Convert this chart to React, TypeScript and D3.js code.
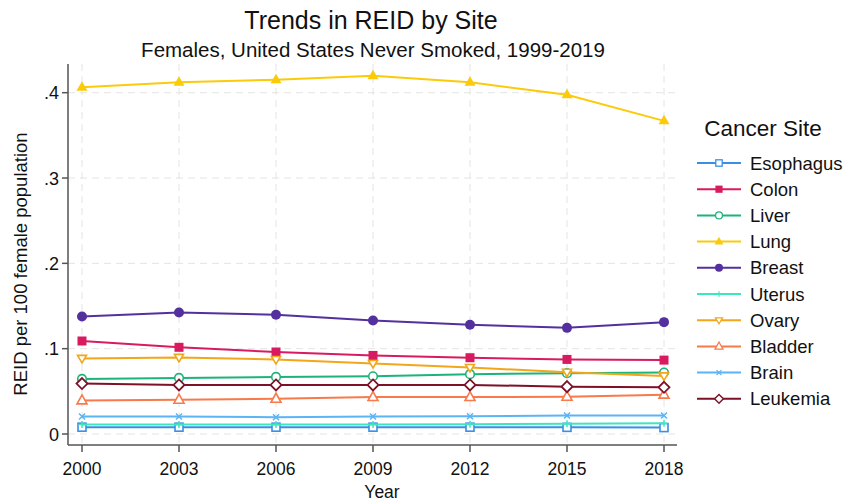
import React from "react";
import * as d3 from "d3";

// Years on the x axis
const years = [2000, 2003, 2006, 2009, 2012, 2015, 2018];
const yTicks = [0, 0.1, 0.2, 0.3, 0.4];
const yTickLabels = ["0", ".1", ".2", ".3", ".4"];

// REID per 100 female population, by cancer site
const esophagus = [0.008, 0.008, 0.008, 0.008, 0.008, 0.0078, 0.0075];
const colon = [0.109, 0.1016, 0.0961, 0.0921, 0.0894, 0.0874, 0.0866];
const liver = [0.0646, 0.0657, 0.0669, 0.0677, 0.0701, 0.0713, 0.072];
const lung = [0.4065, 0.4122, 0.4153, 0.42, 0.4122, 0.3976, 0.367];
const breast = [0.1378, 0.1425, 0.1398, 0.1331, 0.128, 0.1244, 0.1311];
const uterus = [0.011, 0.011, 0.011, 0.011, 0.0115, 0.012, 0.0125];
const ovary = [0.0886, 0.0898, 0.0874, 0.0827, 0.078, 0.0724, 0.0681];
const bladder = [0.0394, 0.0402, 0.0413, 0.0433, 0.0433, 0.0437, 0.0461];
const brain = [0.0205, 0.0205, 0.0197, 0.0205, 0.0209, 0.0217, 0.0217];
const leukemia = [0.0591, 0.0575, 0.0575, 0.0575, 0.0575, 0.0555, 0.0547];

type Marker =
  | "squareOpen"
  | "square"
  | "circleOpen"
  | "triangle"
  | "circle"
  | "plus"
  | "triangleDownOpen"
  | "triangleOpen"
  | "cross"
  | "diamondOpen";

const series: { name: string; values: number[]; color: string; marker: Marker }[] = [
  { name: "Esophagus", values: esophagus, color: "#3a8ee6", marker: "squareOpen" },
  { name: "Colon", values: colon, color: "#d81b60", marker: "square" },
  { name: "Liver", values: liver, color: "#1db47a", marker: "circleOpen" },
  { name: "Lung", values: lung, color: "#fbcb0a", marker: "triangle" },
  { name: "Breast", values: breast, color: "#53309e", marker: "circle" },
  { name: "Uterus", values: uterus, color: "#3ee6bd", marker: "plus" },
  { name: "Ovary", values: ovary, color: "#f2a71b", marker: "triangleDownOpen" },
  { name: "Bladder", values: bladder, color: "#f87a4b", marker: "triangleOpen" },
  { name: "Brain", values: brain, color: "#5bb4f6", marker: "cross" },
  { name: "Leukemia", values: leukemia, color: "#7d1128", marker: "diamondOpen" },
];

const W = 846;
const H = 502;
const FONT = "'Liberation Sans', Arial, sans-serif";

function MarkerShape({ type, x, y, color }: { type: Marker; x: number; y: number; color: string }) {
  const sw = 1.6;
  switch (type) {
    case "squareOpen":
      return <rect x={x - 4} y={y - 4} width={8} height={8} fill="white" stroke={color} strokeWidth={sw} />;
    case "square":
      return <rect x={x - 4.5} y={y - 4.5} width={9} height={9} fill={color} />;
    case "circleOpen":
      return <circle cx={x} cy={y} r={4.3} fill="white" stroke={color} strokeWidth={sw} />;
    case "circle":
      return <circle cx={x} cy={y} r={5} fill={color} />;
    case "triangle":
      return <path d={`M${x},${y - 6} L${x + 5.5},${y + 3.5} L${x - 5.5},${y + 3.5} Z`} fill={color} />;
    case "triangleOpen":
      return (
        <path
          d={`M${x},${y - 5.5} L${x + 5},${y + 3.5} L${x - 5},${y + 3.5} Z`}
          fill="white"
          stroke={color}
          strokeWidth={sw}
        />
      );
    case "triangleDownOpen":
      return (
        <path
          d={`M${x - 4.5},${y - 3} L${x + 4.5},${y - 3} L${x},${y + 4.5} Z`}
          fill="white"
          stroke={color}
          strokeWidth={sw}
        />
      );
    case "plus":
      return (
        <path d={`M${x - 3.5},${y} L${x + 3.5},${y} M${x},${y - 3.5} L${x},${y + 3.5}`} stroke={color} strokeWidth={1.5} />
      );
    case "cross":
      return (
        <path
          d={`M${x - 3},${y - 3} L${x + 3},${y + 3} M${x - 3},${y + 3} L${x + 3},${y - 3}`}
          stroke={color}
          strokeWidth={1.5}
        />
      );
    case "diamondOpen":
      return (
        <path
          d={`M${x},${y - 5.5} L${x + 5.5},${y} L${x},${y + 5.5} L${x - 5.5},${y} Z`}
          fill="white"
          stroke={color}
          strokeWidth={1.8}
        />
      );
  }
}

export default function App() {
  const left = 68;
  const right = 677;
  const top = 64;
  const bottom = 445;

  const x = d3.scaleLinear().domain([2000, 2018]).range([82, 664]);
  const y = d3.scaleLinear().domain([0, 0.4]).range([434, 92.7]);

  const line = d3
    .line<[number, number]>()
    .x((d) => x(d[0]))
    .y((d) => y(d[1]));

  const legendX = 697;
  const legendY0 = 163;
  const legendStep = 26.2;

  return (
    <div style={{ position: "absolute", left: 0, top: 0 }}>
      <svg width={W} height={H} style={{ display: "block", background: "white" }} fontFamily={FONT}>
        <rect width={W} height={H} fill="white" />
        {/* Titles */}
        <text x={371} y={29} textAnchor="middle" fontSize={25} fill="#111">
          Trends in REID by Site
        </text>
        <text x={373} y={57} textAnchor="middle" fontSize={20.5} fill="#111">
          Females, United States Never Smoked, 1999-2019
        </text>

        {/* Grid */}
        <g stroke="#e4e4e4" strokeWidth={1} strokeDasharray="7,5">
          {yTicks.map((t) => (
            <line key={"gy" + t} x1={left} x2={right} y1={y(t)} y2={y(t)} />
          ))}
          {years.map((yr) => (
            <line key={"gx" + yr} x1={x(yr)} x2={x(yr)} y1={top} y2={bottom} />
          ))}
        </g>

        {/* Series */}
        {series.map((s) => (
          <g key={s.name}>
            <path
              d={line(years.map((yr, i) => [yr, s.values[i]] as [number, number])) || ""}
              fill="none"
              stroke={s.color}
              strokeWidth={2}
            />
            {years.map((yr, i) => (
              <MarkerShape key={yr} type={s.marker} x={x(yr)} y={y(s.values[i])} color={s.color} />
            ))}
          </g>
        ))}

        {/* Axes */}
        <g stroke="#555" strokeWidth={1.5}>
          <line x1={left} x2={left} y1={top} y2={bottom} />
          <line x1={left} x2={right} y1={bottom} y2={bottom} />
          {yTicks.map((t) => (
            <line key={"ty" + t} x1={left - 6} x2={left} y1={y(t)} y2={y(t)} />
          ))}
          {years.map((yr) => (
            <line key={"tx" + yr} x1={x(yr)} x2={x(yr)} y1={bottom} y2={bottom + 7} />
          ))}
        </g>
        {yTicks.map((t, i) => (
          <text key={"ly" + t} x={59} y={y(t) + 6.5} textAnchor="end" fontSize={18} fill="#111">
            {yTickLabels[i]}
          </text>
        ))}
        {years.map((yr) => (
          <text key={"lx" + yr} x={x(yr)} y={475} textAnchor="middle" fontSize={17.5} fill="#111">
            {yr}
          </text>
        ))}
        <text x={382} y={498} textAnchor="middle" fontSize={17.5} fill="#111">
          Year
        </text>
        <text
          transform={`translate(27, 264) rotate(-90)`}
          textAnchor="middle"
          fontSize={18.5}
          fill="#111"
        >
          REID per 100 female population
        </text>

        {/* Legend */}
        <text x={763} y={136} textAnchor="middle" fontSize={22.5} fill="#111">
          Cancer Site
        </text>
        {series.map((s, i) => {
          const ly = legendY0 + i * legendStep;
          return (
            <g key={"lg" + s.name}>
              <line x1={legendX} x2={legendX + 44} y1={ly} y2={ly} stroke={s.color} strokeWidth={2} />
              <g transform={`translate(${legendX + 22},${ly}) scale(0.8) translate(${-(legendX + 22)},${-ly})`}>
                <MarkerShape type={s.marker} x={legendX + 22} y={ly} color={s.color} />
              </g>
              <text x={750} y={ly + 6.5} fontSize={18.5} fill="#111">
                {s.name}
              </text>
            </g>
          );
        })}
      </svg>
    </div>
  );
}
